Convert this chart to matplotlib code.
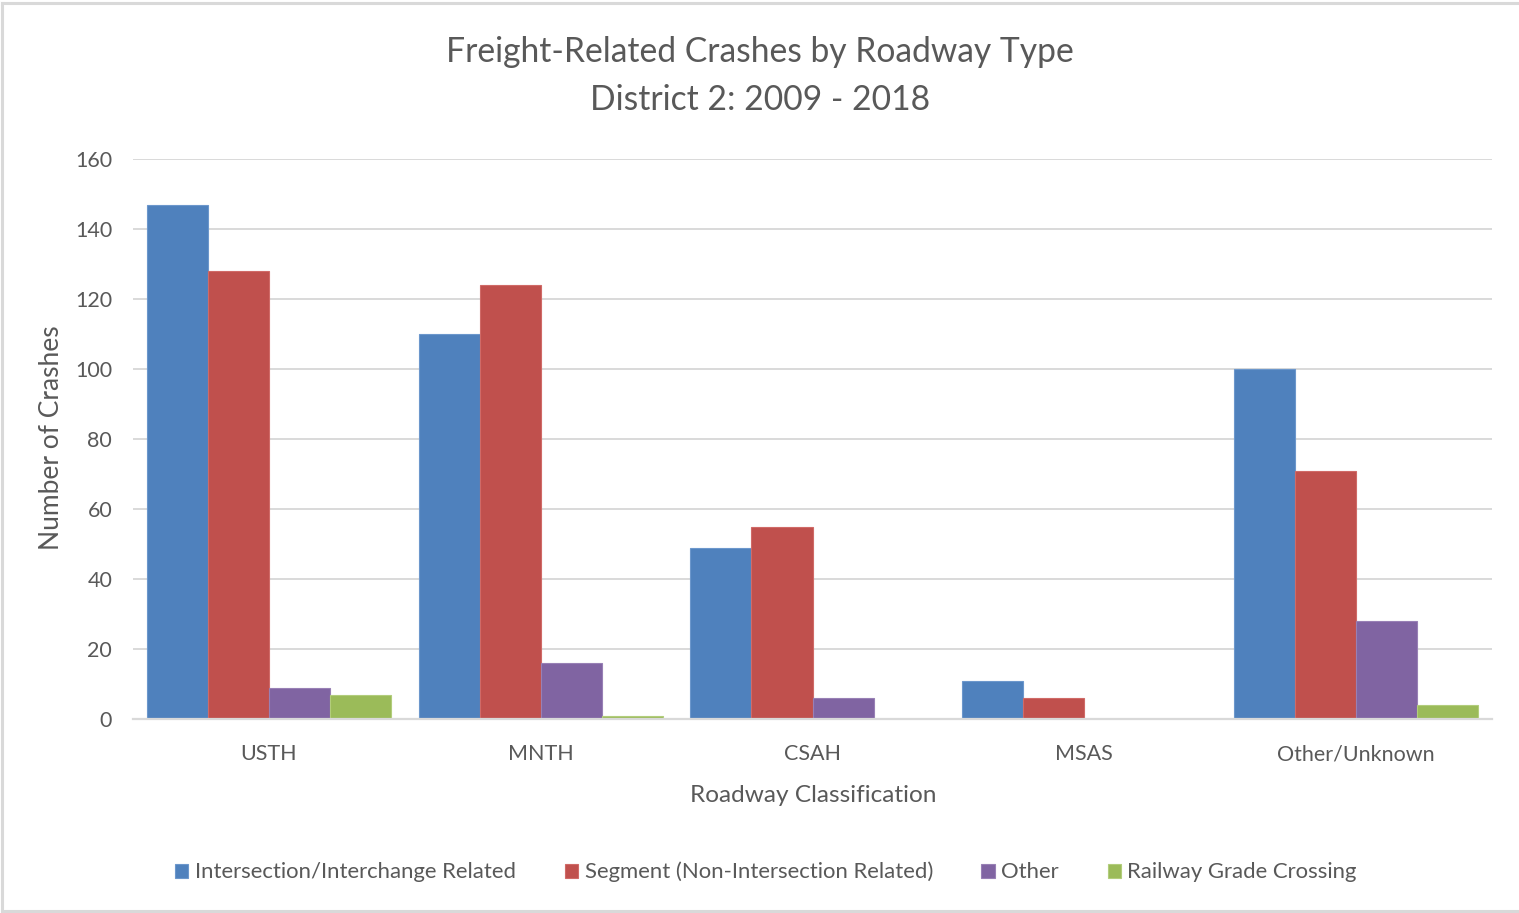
import matplotlib
matplotlib.use("Agg")
import matplotlib.pyplot as plt
import numpy as np

plt.rcParams['font.family'] = ['Lato', 'DejaVu Sans']

categories = ["USTH", "MNTH", "CSAH", "MSAS", "Other/Unknown"]
series_names = ["Intersection/Interchange Related",
                "Segment (Non-Intersection Related)",
                "Other",
                "Railway Grade Crossing"]
intersection = [147, 110, 49, 11, 100]
segment = [128, 124, 55, 6, 71]
other = [9, 16, 6, 0, 28]
railway = [7, 1, 0, 0, 4]
series_values = [intersection, segment, other, railway]
colors = ["#4F81BD", "#C0504D", "#8064A2", "#9BBB59"]
edge_colors = ["#6C97CC", "#D06A67", "#9880B5", "#B2CD7C"]
yticks = [0, 20, 40, 60, 80, 100, 120, 140, 160]

W, H = 1519, 913
fig = plt.figure(figsize=(W / 100, H / 100), dpi=100)
fig.patch.set_facecolor("white")

# outer chart frame (top, left, bottom)
frame_col = "#D9D9D9"
fig.add_artist(plt.Line2D([2 / W, 1], [1 - 3 / H, 1 - 3 / H], color=frame_col, lw=2.2))
fig.add_artist(plt.Line2D([2 / W, 2 / W], [1 - 3 / H, 1 - 911 / H], color=frame_col, lw=2.2))
fig.add_artist(plt.Line2D([2 / W, 1], [1 - 911 / H, 1 - 911 / H], color=frame_col, lw=2.2))

left, right = 133 / W, 1492 / W
bottom, top = 1 - 719 / H, 1 - 159 / H
ax = fig.add_axes([left, bottom, right - left, top - bottom])

n = len(categories)
x = np.arange(n)
bw = 0.2245
for i, (vals, c, ec) in enumerate(zip(series_values, colors, edge_colors)):
    ax.bar(x + (i - 1.5) * bw, vals, width=bw, color=c, edgecolor=ec,
           linewidth=0.8, label=series_names[i], zorder=3)

ax.set_xlim(-0.5, n - 0.5)
ax.set_ylim(0, 160)
ax.set_yticks(yticks)
ax.set_yticklabels([str(v) for v in yticks])
ax.yaxis.grid(True, color="#D9D9D9", lw=1.4, zorder=0)
ax.set_axisbelow(True)
for s in ["top", "right", "left"]:
    ax.spines[s].set_visible(False)
ax.spines["bottom"].set_color("#D9D9D9")
ax.spines["bottom"].set_linewidth(1.6)
ax.spines["bottom"].set_zorder(4)
ax.tick_params(axis="y", length=0, pad=15, labelsize=15.5, labelcolor="#595959")
ax.tick_params(axis="x", length=0, pad=18, labelsize=15.5, labelcolor="#595959")
ax.set_xticks(x)
ax.set_xticklabels(categories)

tc = "#595959"
fig.text(760 / W, 1 - 52 / H, "Freight-Related Crashes by Roadway Type",
         ha="center", va="center", fontsize=24.2, color=tc)
fig.text(760 / W, 1 - 100 / H, "District 2: 2009 - 2018",
         ha="center", va="center", fontsize=24.2, color=tc)
fig.text(813 / W, 1 - 795 / H, "Roadway Classification",
         ha="center", va="center", fontsize=17.6, color=tc)
fig.text(52 / W, 1 - 438 / H, "Number of Crashes", rotation=90,
         ha="center", va="center", fontsize=19, color=tc)

leg = fig.legend(loc="center", bbox_to_anchor=(766 / W, 1 - 872 / H), ncol=4,
                 frameon=False, fontsize=15.9, handlelength=0.6, handleheight=0.6,
                 handletextpad=0.3, columnspacing=2.2, labelcolor=tc)

fig.savefig("out.png", dpi=100, facecolor="white")
